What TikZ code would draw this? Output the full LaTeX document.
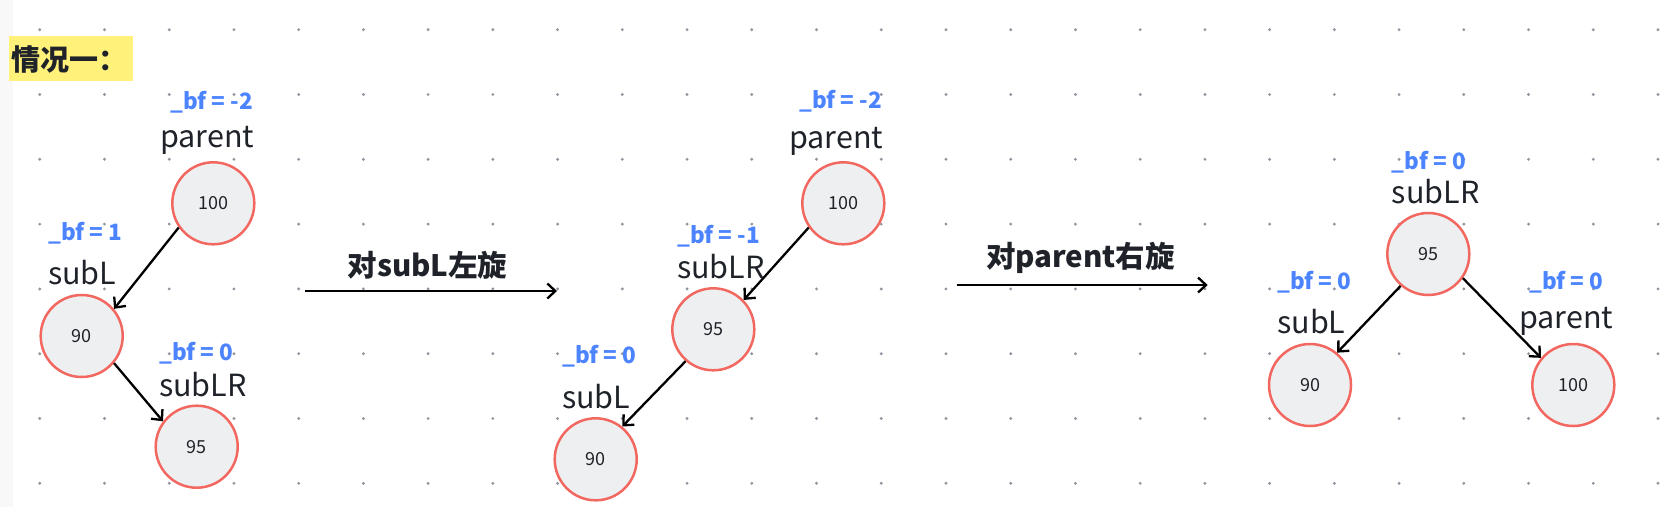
\documentclass[tikz,border=0pt]{standalone}
\usepackage{fontspec}
\setmainfont{Noto Sans CJK SC}
\usetikzlibrary{arrows.meta}

\definecolor{nodered}{RGB}{242,104,96}
\definecolor{nodefill}{RGB}{238,239,241}
\definecolor{bfblue}{RGB}{76,132,255}
\definecolor{inkdark}{RGB}{31,35,41}
\definecolor{markyellow}{RGB}{255,241,122}
\definecolor{dotgray}{RGB}{143,149,158}
\definecolor{stripgray}{RGB}{248,248,249}

\begin{document}
\begin{tikzpicture}[x=1pt, y=-1pt, >={Straight Barb[length=8pt,width=15pt]},
  every node/.style={text=inkdark, inner sep=0pt},
  treenode/.style={circle, draw=nodered, fill=nodefill, line width=2.5pt, minimum size=82pt, font=\fontsize{18}{18}\selectfont},
  tagname/.style={anchor=west, font=\fontsize{30.5}{30.5}\selectfont},
  bflabel/.style={anchor=west, text=bfblue, font=\bfseries\fontsize{22.5}{22.5}\selectfont},
  steplabel/.style={font=\bfseries\fontsize{29.5}{29.5}\selectfont},
  link/.style={->, line width=2.3pt, black}]

\useasboundingbox (0,0) rectangle (1661,507);
\fill[stripgray] (0,0) rectangle (13,507);

% dot grid
\foreach \i in {0,...,25}
  \foreach \j in {0,...,7}
    \fill[dotgray] (39.75+64.73*\i, 29.7+64.8*\j) circle (1.6pt);

% title
\fill[markyellow] (9,36) rectangle (133,81);
\node[anchor=west, font=\bfseries\fontsize{29}{29}\selectfont] (title) at (11,60) {情况一：};

% tree before
\node[bflabel] (bfA1) at (170,101.7) {\_bf = -2};
\node[tagname] (nameA1) at (160,140) {parent};
\node[treenode] (A1) at (213.3,203.3) {100};
\node[bflabel] (bfA2) at (48,233) {\_bf = 1};
\node[tagname] (nameA2) at (48,273) {subL};
\node[treenode] (A2) at (81.7,336) {90};
\node[bflabel] (bfA3) at (159,353) {\_bf = 0};
\node[tagname] (nameA3) at (159,385) {subLR};
\node[treenode] (A3) at (196.7,446.7) {95};

\draw[link] (A1.215) -- (A2.40);
\draw[link] (A2.320) -- (A3.143);

% rotate subL
\coordinate (rotA) at (305,291);
\coordinate (rotB) at (557,291);
\draw[link] (rotA) -- (rotB);
\node[steplabel] (stepA) at (427.5,265) {对subL左旋};

% tree after first rotation
\node[bflabel] (bfB1) at (799,100.7) {\_bf = -2};
\node[tagname] (nameB1) at (789,141.7) {parent};
\node[treenode] (B1) at (843.3,203.3) {100};
\node[bflabel] (bfB2) at (677,235.7) {\_bf = -1};
\node[tagname] (nameB2) at (677,266.7) {subLR};
\node[treenode] (B2) at (713.3,329.3) {95};
\node[bflabel] (bfB3) at (562,356) {\_bf = 0};
\node[tagname] (nameB3) at (562,396.7) {subL};
\node[treenode] (B3) at (595.7,459.3) {90};

\draw[link] (B1.215) -- (B2.44);
\draw[link] (B2.229) -- (B3.51);

% rotate parent
\coordinate (rotC) at (956.7,285);
\coordinate (rotD) at (1207.7,285);
\draw[link] (rotC) -- (rotD);
\node[steplabel] (stepB) at (1080.5,258) {对parent右旋};

% tree after second rotation
\node[bflabel] (bfC1) at (1391.7,161.7) {\_bf = 0};
\node[tagname] (nameC1) at (1391.7,191.7) {subLR};
\node[treenode] (C1) at (1428.3,254) {95};
\node[bflabel] (bfC2) at (1277,281.7) {\_bf = 0};
\node[tagname] (nameC2) at (1277,321.7) {subL};
\node[treenode] (C2) at (1310,385) {90};
\node[bflabel] (bfC3) at (1529,281.7) {\_bf = 0};
\node[tagname] (nameC3) at (1519,321.7) {parent};
\node[treenode] (C3) at (1573.3,385) {100};

\draw[link] (C1.229) -- (C2.50);
\draw[link] (C1.325) -- (C3.140);

\end{tikzpicture}
\end{document}
